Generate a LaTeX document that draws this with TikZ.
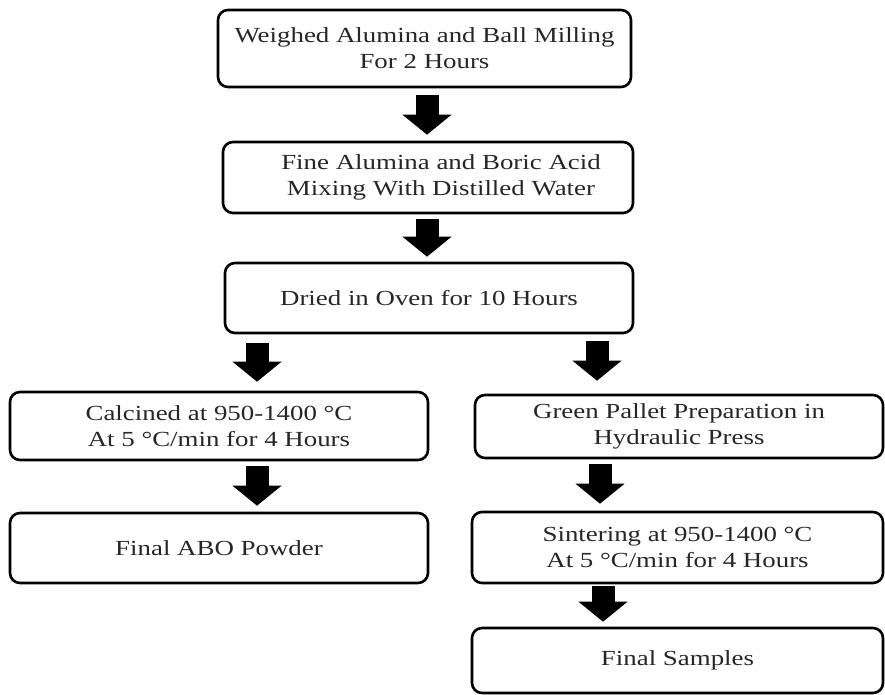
\documentclass[tikz,border=0pt]{standalone}
\usepackage{fontspec}
\setmainfont{Liberation Serif}[FakeStretch=1.25]
\usetikzlibrary{arrows.meta,calc}

\tikzset{
	stepbox/.style={draw, line width=2.6pt, rounded corners=10pt, align=center,
		inner sep=0pt, text=black!85, font=\fontsize{21.5}{26}\selectfont},
	bigarrow/.style={line width=23pt, -{Triangle[width=48pt,length=20pt]},
		shorten <=7pt, shorten >=6pt}
}

\begin{document}
\begin{tikzpicture}[x=1pt, y=-1pt]
	\useasboundingbox (0,0) rectangle (885,695);
	
	% middle column
	\node [stepbox, minimum width=413pt, minimum height=77pt] (weigh) at (424.5,48.5)
		{Weighed Alumina and Ball Milling\\For 2 Hours};
	\node [stepbox, minimum width=410pt, minimum height=71pt] (fine) at (428,177.5)
		{\hspace*{26pt}Fine Alumina and Boric Acid\\\hspace*{26pt}Mixing With Distilled Water};
	\node [stepbox, minimum width=408pt, minimum height=70pt] (dried) at (429,298)
		{Dried in Oven for 10 Hours};
	
	% left column
	\node [stepbox, minimum width=418pt, minimum height=68pt] (calcined) at (219,426)
		{Calcined at 950-1400 °C\\At 5 °C/min for 4 Hours};
	\node [stepbox, minimum width=418pt, minimum height=70pt] (abo) at (219,548)
		{Final ABO Powder};
	
	% right column
	\node [stepbox, minimum width=408pt, minimum height=63pt] (green) at (679,426.5)
		{Green Pallet Preparation in\\Hydraulic Press};
	\node [stepbox, minimum width=411pt, minimum height=71pt] (sinter) at (677.5,547.5)
		{Sintering at 950-1400 °C\\At 5 °C/min for 4 Hours};
	\node [stepbox, minimum width=411pt, minimum height=65pt] (samples) at (677.5,660.5)
		{Final Samples};
	
	\draw [bigarrow] ($(weigh.south)+(2.5,0)$) -- ($(fine.north)+(-1,0)$);
	\draw [bigarrow, shorten <=5pt, shorten >=5pt] ($(fine.south)+(-1,0)$) -- ($(dried.north)+(-2,0)$);
	\draw [bigarrow, shorten <=9pt, shorten >=9pt] ($(calcined.north |- dried.south)+(38,0)$) -- ($(calcined.north)+(38,0)$);
	\draw [bigarrow, shorten >=13pt] ($(green.north |- dried.south)+(-82,0)$) -- ($(green.north)+(-82,0)$);
	\draw [bigarrow, shorten <=5pt] ($(calcined.south)+(38,0)$) -- ($(abo.north)+(38,0)$);
	\draw [bigarrow, shorten <=5pt, shorten >=7pt] ($(green.south)+(-79,0)$) -- ($(sinter.north)+(-77.5,0)$);
	\draw [bigarrow, shorten <=2pt, shorten >=5pt] ($(sinter.south)+(-74.5,0)$) -- ($(samples.north)+(-74.5,0)$);
\end{tikzpicture}
\end{document}
